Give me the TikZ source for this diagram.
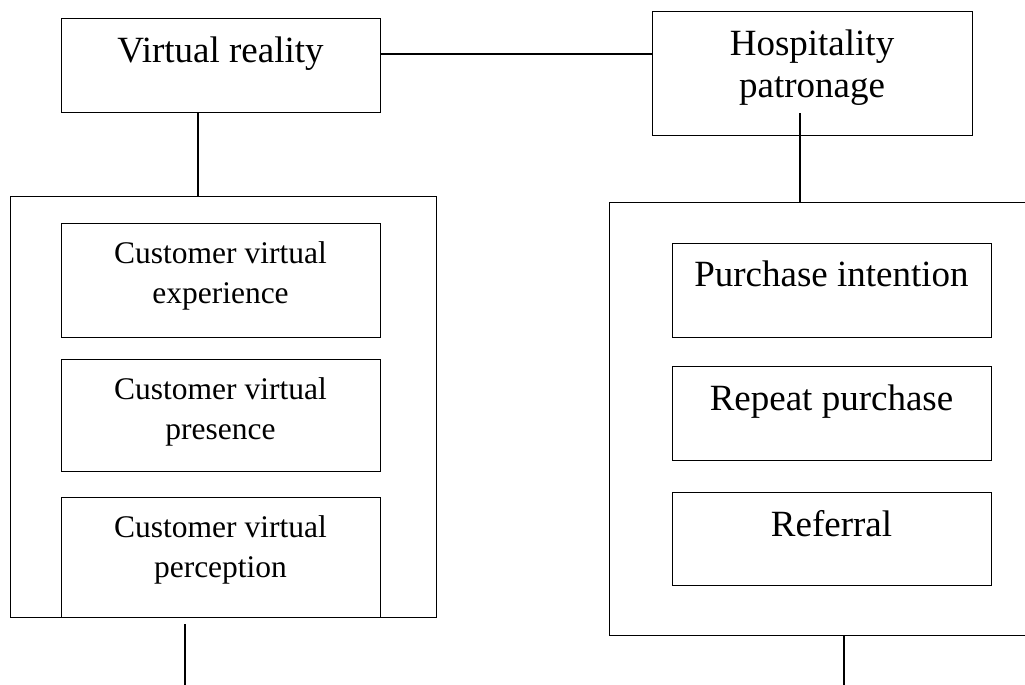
\documentclass[tikz,border=0pt]{standalone}
\usepackage{fontspec}
\setmainfont{Liberation Serif}
\begin{document}
\begin{tikzpicture}[x=1pt,y=-1pt,
  box/.style={draw=black,line width=1.2pt,rectangle,inner sep=0pt,anchor=north west},
  big/.style={font=\fontsize{37}{42}\selectfont,align=center,anchor=base,inner sep=0pt},
  small/.style={font=\fontsize{31.5}{40}\selectfont,align=center,anchor=base,inner sep=0pt},
  link/.style={draw=black,line width=1.2pt}]
\useasboundingbox (0,0) rectangle (1025,685);
\clip (0,0) rectangle (1025,685);
% top boxes
\node[box,minimum width=319pt,minimum height=94pt] (vr) at (61,18) {};
\node[big] (vrt) at (220.5,63) {Virtual reality};
\node[box,minimum width=320pt,minimum height=124pt] (hp) at (652,11) {};
\node[big] (hpt) at (812,97) {Hospitality\\patronage};
% containers
\node[box,minimum width=426pt,minimum height=421pt] (lc) at (10,196) {};
\node[box,minimum width=431pt,minimum height=433pt] (rc) at (609,202) {};
% left inner boxes
\node[box,minimum width=319pt,minimum height=114pt] (l1) at (61,223) {};
\node[small] (l1t) at (220.5,303) {Customer virtual\\experience};
\node[box,minimum width=319pt,minimum height=112pt] (l2) at (61,359) {};
\node[small] (l2t) at (220.5,439) {Customer virtual\\presence};
\node[box,minimum width=319pt,minimum height=120pt] (l3) at (61,497) {};
\node[small] (l3t) at (220.5,577) {Customer virtual\\perception};
% right inner boxes
\node[box,minimum width=319pt,minimum height=94pt] (r1) at (672,243) {};
\node[big] (r1t) at (831.5,286) {Purchase intention};
\node[box,minimum width=319pt,minimum height=94pt] (r2) at (672,366) {};
\node[big] (r2t) at (831.5,410) {Repeat purchase};
\node[box,minimum width=319pt,minimum height=93pt] (r3) at (672,492) {};
\node[big] (r3t) at (831.5,536) {Referral};
% connectors
\coordinate (y54) at (0,54);
\draw[link] (vr.east |- y54) -- (hp.west |- y54);
\coordinate (lx) at (198,0);
\draw[link] (vr.south -| lx) -- (lc.north -| lx);
\coordinate (hpin) at (800,113);
\draw[link] (hpin) -- (rc.north -| hpin);
\coordinate (lb) at (185,690);
\draw[link] ([yshift=-6pt]lc.south -| lb) -- (lb);
\coordinate (rb) at (844,690);
\draw[link] (rc.south -| rb) -- (rb);
\end{tikzpicture}
\end{document}
